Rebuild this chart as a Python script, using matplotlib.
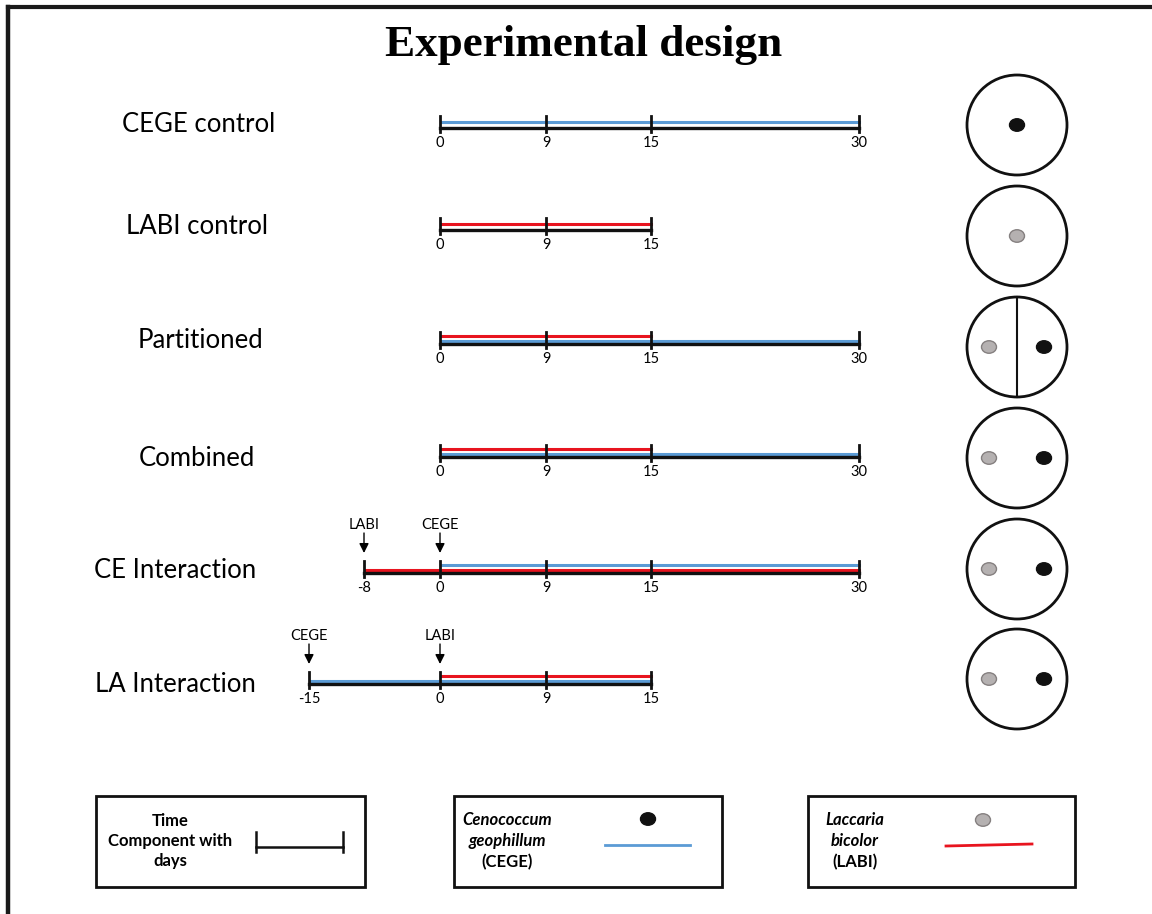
import numpy as np
import matplotlib
matplotlib.use("Agg")
import matplotlib.pyplot as plt
from matplotlib.patches import Circle, Ellipse, Rectangle

# rows of the design
row_labels = ["CEGE control", "LABI control", "Partitioned", "Combined",
              "CE Interaction", "LA Interaction"]
row_ticks = [[0, 9, 15, 30], [0, 9, 15], [0, 9, 15, 30], [0, 9, 15, 30],
             [-8, 0, 9, 15, 30], [-15, 0, 9, 15]]
# colored tracks per row, bottom to top: (species, start day, end day)
row_tracks = [
    [("CEGE", 0, 30)],
    [("LABI", 0, 15)],
    [("CEGE", 0, 30), ("LABI", 0, 15)],
    [("CEGE", 0, 30), ("LABI", 0, 15)],
    [("LABI", -8, 30), ("CEGE", 0, 30)],
    [("CEGE", -15, 15), ("LABI", 0, 15)],
]
# inoculation arrows: (species, day)
row_arrows = [[], [], [], [], [("LABI", -8), ("CEGE", 0)],
              [("CEGE", -15), ("LABI", 0)]]
# plate content: list of (species, side) ; side -1 left, 0 centre, 1 right
row_plates = [[("CEGE", 0)], [("LABI", 0)], [("LABI", -1), ("CEGE", 1)],
              [("LABI", -1), ("CEGE", 1)], [("LABI", -1), ("CEGE", 1)],
              [("LABI", -1), ("CEGE", 1)]]
row_divided = [False, False, True, False, False, False]

# layout (pixels)
day_anchor = [-15, -8, 0, 9, 15, 30]
day_anchor_px = [309, 364, 440, 546, 651, 859]
row_y = [128, 230, 344, 457, 573, 684]
label_x = [199, 197, 200, 197, 175, 175]
label_y = [125, 227, 341, 459, 570, 685]
plate_y = [125, 236, 347, 458, 569, 679]
plate_x = 1017
plate_r = 50

colors = {"CEGE": "#5b9bd5", "LABI": "#e8141f"}
dot_face = {"CEGE": "#111111", "LABI": "#b5b1b1"}
dot_edge = {"CEGE": "#111111", "LABI": "#858080"}

plt.rcParams['font.family'] = ['Lato', 'DejaVu Sans']

fig = plt.figure(figsize=(11.52, 9.14), dpi=100)
ax = fig.add_axes([0, 0, 1, 1])
ax.set_xlim(0, 1152)
ax.set_ylim(914, 0)
ax.axis('off')


def dx(d):
    return np.interp(d, day_anchor, day_anchor_px)


# outer frame (left and top only visible)
ax.plot([8, 8], [7, 914], color='#1a1a1a', lw=3.2, solid_capstyle='projecting')
ax.plot([8, 1152], [7, 7], color='#1a1a1a', lw=3.0, solid_capstyle='projecting')

ax.text(584, 45, "Experimental design", ha='center', va='center',
        family='Liberation Serif', fontweight='bold', fontsize=32.5)

offsets_single = [-6.5]
offsets_double = [-3.3, -8.3]

for i, lab in enumerate(row_labels):
    y = row_y[i]
    ax.text(label_x[i], label_y[i], lab, ha='center', va='center', fontsize=18.5)
    ticks = row_ticks[i]
    # base time line
    ax.plot([dx(ticks[0]), dx(ticks[-1])], [y, y], color='#111111', lw=2.4,
            zorder=3)
    for t in ticks:
        ax.plot([dx(t), dx(t)], [y - 12, y + 4], color='#111111', lw=2.0,
                zorder=4)
        ax.text(dx(t), y + 15, str(t), ha='center', va='center', fontsize=10.5)
    offs = offsets_single if len(row_tracks[i]) == 1 else offsets_double
    for (sp, a, b), o in zip(row_tracks[i], offs):
        ax.plot([dx(a) + 2, dx(b)], [y + o, y + o], color=colors[sp], lw=2.2,
                zorder=2)
    for sp, d in row_arrows[i]:
        ax.text(dx(d), y - 48, sp, ha='center', va='center', fontsize=10.5)
        ax.annotate('', xy=(dx(d), y - 20), xytext=(dx(d), y - 40),
                    arrowprops=dict(arrowstyle='-|>', color='black', lw=1.0,
                                    mutation_scale=14, shrinkA=0, shrinkB=0))
    # plate
    cy = plate_y[i]
    ax.add_patch(Circle((plate_x, cy), plate_r, fill=False, lw=2.0,
                        ec='#111111'))
    if row_divided[i]:
        ax.plot([plate_x, plate_x], [cy - plate_r, cy + plate_r],
                color='#111111', lw=1.5)
    for sp, side in row_plates[i]:
        ax.add_patch(Ellipse((plate_x + side * 27 - (1 if side < 0 else 0), cy),
                             15, 12.5, fc=dot_face[sp], ec=dot_edge[sp], lw=1.0))

# legend boxes
box_x = [96, 454, 808]
box_w = [269, 268, 267]
box_y0, box_h = 796, 91
for bx, bw in zip(box_x, box_w):
    ax.add_patch(Rectangle((bx, box_y0), bw, box_h, fill=False, lw=2.0,
                           ec='#111111'))

leg_font = 12
ax.text(170, 841, "Time\nComponent with\ndays", ha='center', va='center',
        fontsize=leg_font, fontweight='bold', linespacing=1.3)
ax.plot([256, 343], [847, 847], color='#111111', lw=1.8)
for xx in (256, 343):
    ax.plot([xx, xx], [832, 852], color='#111111', lw=1.8)

ax.text(507, 820, "Cenococcum", ha='center', va='center', fontsize=leg_font,
        fontweight='bold', style='italic')
ax.text(507, 841, "geophillum", ha='center', va='center', fontsize=leg_font,
        fontweight='bold', style='italic')
ax.text(507, 862, "(CEGE)", ha='center', va='center', fontsize=leg_font,
        fontweight='bold')
ax.add_patch(Ellipse((648, 819), 15, 12.5, fc=dot_face["CEGE"],
                     ec=dot_edge["CEGE"], lw=1.0))
ax.plot([605, 690], [845, 845], color=colors["CEGE"], lw=2.0)

ax.text(855, 820, "Laccaria", ha='center', va='center', fontsize=leg_font,
        fontweight='bold', style='italic')
ax.text(855, 841, "bicolor", ha='center', va='center', fontsize=leg_font,
        fontweight='bold', style='italic')
ax.text(855, 862, "(LABI)", ha='center', va='center', fontsize=leg_font,
        fontweight='bold')
ax.add_patch(Ellipse((983, 820), 15, 12.5, fc=dot_face["LABI"],
                     ec=dot_edge["LABI"], lw=1.0))
ax.plot([946, 1032], [846, 844], color=colors["LABI"], lw=2.0)

fig.savefig("out.png", dpi=100)
